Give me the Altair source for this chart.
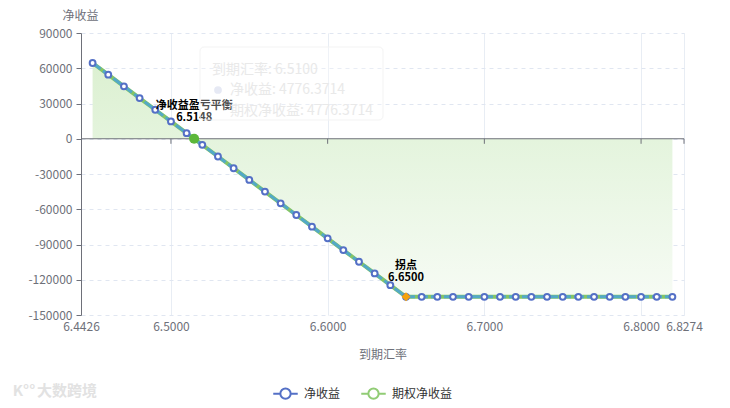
import altair as alt
import pandas as pd

# ---- data ----
rates = [6.45, 6.46, 6.47, 6.48, 6.49, 6.50, 6.51, 6.52, 6.53, 6.54,
         6.55, 6.56, 6.57, 6.58, 6.59, 6.60, 6.61, 6.62, 6.63, 6.64,
         6.65, 6.66, 6.67, 6.68, 6.69, 6.70, 6.71, 6.72, 6.73, 6.74,
         6.75, 6.76, 6.77, 6.78, 6.79, 6.80, 6.81, 6.82]
net = [64481.0, 54530.2, 44579.5, 34628.7, 24677.9, 14727.1, 4776.4, -5174.4,
       -15125.2, -25075.9, -35026.7, -44977.5, -54928.3, -64879.0, -74829.8,
       -84780.6, -94731.4, -104682.2, -114632.9, -124583.7, -134534.5,
       -134534.5, -134534.5, -134534.5, -134534.5, -134534.5, -134534.5,
       -134534.5, -134534.5, -134534.5, -134534.5, -134534.5, -134534.5,
       -134534.5, -134534.5, -134534.5, -134534.5, -134534.5]
opt = list(net)
x_ticks = [6.4426, 6.5, 6.6, 6.7, 6.8, 6.8274]
y_ticks = [-150000, -120000, -90000, -60000, -30000, 0, 30000, 60000, 90000]
breakeven_rate = [6.5148]
breakeven_val = [0]
kink_rate = [6.65]
kink_val = [-134534.5]
series_names = ["净收益", "期权净收益"]

FONT = "Noto Sans CJK SC"
AX = "#6e7079"

df = pd.DataFrame({"rate": rates, "net": net, "opt": opt})
df["series"] = series_names[0]

xscale = alt.Scale(domain=[6.4426, 6.8274], nice=False, zero=False)
yscale = alt.Scale(domain=[-150000, 90000], nice=False, zero=False)

xaxis = alt.Axis(values=x_ticks, format=".4f", title="到期汇率", titleY=39,
                 titleBaseline="middle", titleColor=AX, titleFontWeight="normal",
                 titleFontSize=12, labelColor=AX, labelFontSize=12,
                 labelOverlap=False, labelFlush=False, labelPadding=6,
                 ticks=False, domain=False, grid=True, gridColor="#e0e6f1",
                 gridDash=[1, 0])
yaxis = alt.Axis(values=y_ticks, labelExpr="'' + datum.value", title="净收益",
                 titleAngle=0, titleX=-1, titleY=-18, titleAlign="center",
                 titleBaseline="middle", titleColor=AX,
                 titleFontWeight="normal", titleFontSize=12,
                 labelColor=AX, labelFontSize=12, labelPadding=4,
                 tickSize=5, tickColor=AX, domain=True, domainColor=AX,
                 grid=True, gridColor="#e0e6f1", gridDash=[4, 4])

X = alt.X("rate:Q", scale=xscale, axis=xaxis)

gradient = alt.Gradient(
    gradient="linear", x1=0, y1=0, x2=0, y2=1,
    stops=[alt.GradientStop(color="#dcf0d1", offset=0),
           alt.GradientStop(color="#e4f4dd", offset=0.33),
           alt.GradientStop(color="#f6fbf4", offset=1)])

base = alt.Chart(df)

area = base.mark_area(color=gradient).encode(
    x=X, y=alt.Y("net:Q", scale=yscale, axis=yaxis), y2=alt.Y2Datum(0))

zero_df = pd.DataFrame({"v": [0]})
zero_rule = alt.Chart(zero_df).mark_rule(color=AX, strokeWidth=1).encode(
    y=alt.Y("v:Q", scale=yscale, axis=yaxis))

tick_df = pd.DataFrame({"rate": x_ticks[1:], "y0": [0] * 5, "y1": [-4300] * 5})
zero_ticks = alt.Chart(tick_df).mark_rule(color=AX, strokeWidth=1).encode(
    x=X, y=alt.Y("y0:Q", scale=yscale, axis=yaxis), y2="y1:Q")

line_green = base.mark_line(color="#84c566", strokeWidth=4).encode(
    x=X, y=alt.Y("net:Q", scale=yscale, axis=yaxis))
line_blue = base.mark_line(color="#4aa3d8", strokeWidth=3, strokeDash=[10, 3],
                           opacity=0.85).encode(
    x=X, y=alt.Y("opt:Q", scale=yscale, axis=yaxis))

points = base.mark_point(shape="circle", filled=False, fill="white",
                         fillOpacity=1, strokeWidth=2, size=34).encode(
    x=X, y=alt.Y("net:Q", scale=yscale, axis=yaxis),
    stroke=alt.Stroke("series:N",
                      scale=alt.Scale(domain=series_names,
                                      range=["#5470c6", "#91cc75"]),
                      legend=alt.Legend(
                          title=None, orient="none", legendX=191, legendY=347,
                          direction="horizontal",
                          symbolType="M-1,0L-0.42,0M0.42,0L1,0M0.42,0A0.42,0.42,0,1,1,-0.42,0A0.42,0.42,0,1,1,0.42,0",
                          symbolSize=600, symbolStrokeWidth=2,
                          symbolFillColor="white", labelFontSize=12,
                          labelColor="#333333", labelOffset=5,
                          columnPadding=16, labelFont=FONT)))

be_df = pd.DataFrame({"rate": breakeven_rate, "v": breakeven_val,
                      "t": ["净收益盈亏平衡\n6.5148"]})
be_pt = alt.Chart(be_df).mark_point(shape="circle", filled=True,
                                    color="#5cb73a", size=100, opacity=1).encode(
    x=X, y=alt.Y("v:Q", scale=yscale, axis=yaxis))
be_t = alt.Chart(be_df).mark_text(fontSize=11, fontWeight="bold", color="#000",
                                  lineBreak="\n", lineHeight=12, baseline="bottom",
                                  dy=-28).encode(
    x=X, y=alt.Y("v:Q", scale=yscale, axis=yaxis), text="t:N")

k_df = pd.DataFrame({"rate": kink_rate, "v": kink_val,
                     "t": ["拐点\n6.6500"]})
k_pt = alt.Chart(k_df).mark_point(shape="diamond", filled=True,
                                  color="#f5a20c", size=80, opacity=1).encode(
    x=X, y=alt.Y("v:Q", scale=yscale, axis=yaxis))
k_t = alt.Chart(k_df).mark_text(fontSize=11, fontWeight="bold", color="#000",
                                lineBreak="\n", lineHeight=12, baseline="bottom",
                                dy=-26).encode(
    x=X, y=alt.Y("v:Q", scale=yscale, axis=yaxis), text="t:N")

# faded tooltip ghost
tip_box = alt.Chart(zero_df).mark_rect(fill="white", fillOpacity=0.3,
                                       stroke="#f3f3f3", cornerRadius=4).encode(
    x=alt.value(119), x2=alt.value(302), y=alt.value(14), y2=alt.value(87))
tip_df = pd.DataFrame({
    "tx": [131, 149, 149],
    "ty": [37, 57, 78],
    "txt": ["到期汇率: 6.5100", "净收益: 4776.3714", "期权净收益: 4776.3714"]})
tip_text = alt.Chart(tip_df).mark_text(align="left", baseline="middle",
                                       fontSize=14, color="#e9e9e9").encode(
    x=alt.X("tx:Q", scale=None), y=alt.Y("ty:Q", scale=None), text="txt:N")
tip_dot = alt.Chart(zero_df).mark_point(shape="circle", filled=True,
                                        color="#e6e9f4", size=60, opacity=1).encode(
    x=alt.value(137), y=alt.value(57))

# watermark
wm = alt.Chart(zero_df).mark_text(text="大数跨境", fontSize=15, fontWeight="bold",
                                  color="#e2e2e2", align="center",
                                  baseline="middle").encode(
    x=alt.value(-14), y=alt.value(358))
wm_logo = alt.Chart(zero_df).mark_text(text="K°°", fontSize=15, fontWeight="bold",
                                       color="#e2e2e2", align="center",
                                       baseline="middle").encode(
    x=alt.value(-57), y=alt.value(358))

chart = alt.layer(
    area, zero_rule, zero_ticks, line_green, line_blue, points,
    be_pt, k_pt, be_t, k_t,
    tip_box, tip_text, tip_dot, wm, wm_logo
).resolve_scale(x="shared", y="shared").properties(
    width=603, height=282, autosize="none",
    padding={"left": 73, "top": 25, "right": 30, "bottom": 85},
    background="white"
).configure(font=FONT).configure_view(strokeWidth=0)

chart.save("out.html", embed_options={"renderer": "svg", "actions": False})
